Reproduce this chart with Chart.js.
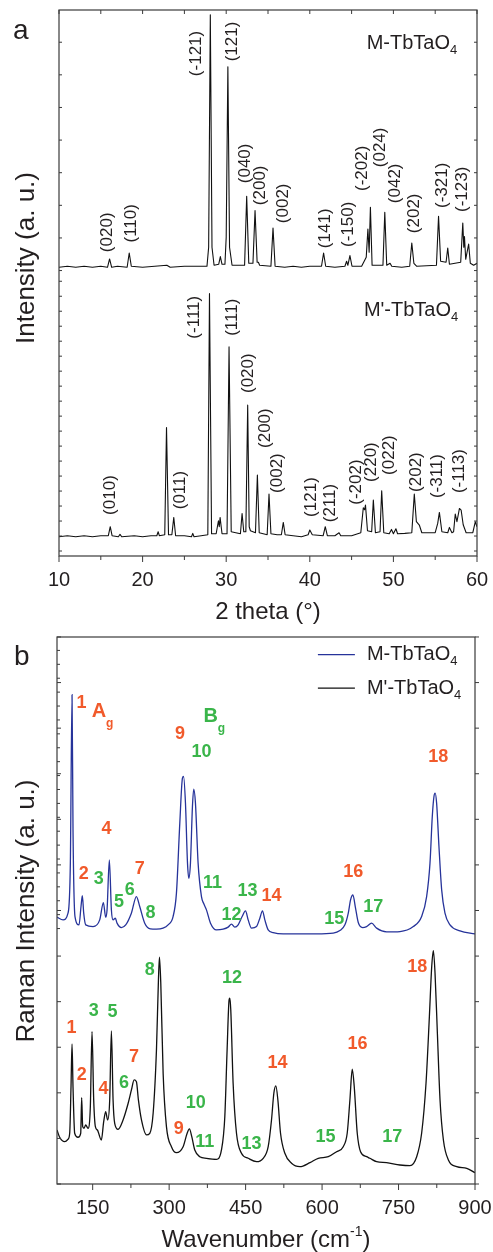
<!doctype html>
<html lang="en">
<head>
<meta charset="UTF-8">
<title>TbTaO4 XRD and Raman</title>
<script src="https://cdn.jsdelivr.net/npm/chart.js"></script>
<style>
  body { margin: 0; background: #fff; }
  canvas { display: block; }
</style>
</head>
<body>
<canvas id="xrd" width="493" height="630"></canvas>
<canvas id="raman" width="493" height="622"></canvas>
<script>
// ---------- (a) XRD patterns, 2 theta (deg) vs intensity (a. u.) ----------
const mTheta = [10,11,12,13,14,15,15.8,16.05,16.3,17,
  18.15,18.4,18.65,20,22.9,23.3,25,27.7,27.9,28.1,
  28.3,28.55,29.1,29.3,29.5,29.85,30.0,30.2,30.4,30.7,
  32.2,32.45,32.7,33.2,33.45,33.7,33.85,34.0,35.35,35.6,
  35.85,37,38,39,40,41.4,41.65,41.9,43,44.2,
  44.4,44.55,44.8,45.05,46.2,46.75,46.95,47.1,47.25,47.45,
  48.75,48.97,49.2,49.6,49.8,51,51.95,52.2,52.45,52.8,
  55.15,55.4,55.65,56.3,56.5,56.7,58.05,58.3,58.42,58.5,
  58.65,59.0,59.2,59.6,60];
const mCounts = [0,1,0,1,0,1,0,8.3,0,1,
  0,14.3,1,0,2,0,1,1,20,252.7,
  20,2,3,10.7,3,3,30,200.7,20,2,
  2,71,4,4,56.7,5,5,2,1,39.3,
  1,0,1,0,1,1,14.3,1,0,1,
  6,2,11.7,1,1,10,38.3,15,60,2,
  2,55,2,4,1,0,1,24.3,4,1,
  2,51,6,5,19.3,3,5,44.3,20,30.7,
  8,23.3,4,2,4];

const mpTheta = [10,11,12,13,14,15,15.9,16.13,16.35,17.1,
  17.3,17.5,19,20,21,21.7,21.86,22.0,22.65,22.86,
  23.1,23.5,23.73,23.95,25,25.85,26,26.15,27,27.8,
  28.0,28.25,28.8,29.07,29.17,29.27,29.5,30.1,30.34,30.6,
  31.7,31.9,32.1,32.35,32.57,32.75,32.9,33.5,33.73,33.95,
  34.9,35.12,35.35,36.1,36.6,36.83,37.05,38,39,39.8,
  40.0,40.3,41.6,41.85,42.1,43,43.5,43.7,45,46.1,
  46.4,46.55,46.66,46.9,47.4,47.6,47.85,48.4,48.6,48.85,
  49.5,49.77,50.0,50.3,50.5,51.36,52.2,52.5,52.75,53.1,
  53.4,55.0,55.3,55.5,55.8,56.5,56.7,57.0,57.2,57.4,
  57.6,57.9,58.1,58.35,58.7,59.5,59.8,60];
const mpCounts = [0,1,0,1,0,1,1,10,1,0,
  2.3,0,1,0,1,1,5,1,2,109.3,
  2,2,19.3,1,1,0,3.3,0,1,2,
  243.3,3,3,16,10,19.3,3,3,190,5,
  3,23.3,5,5,131.7,10,6,4,61.7,4,
  2,42.7,3,2,2,14.3,2,1,0,2,
  6.7,2,1,10,1,1,4,1,1,4,
  29,27,31.7,6,5,36.7,4,5,46,4,
  3,7.3,3,8,3,3.3,4,42.7,15,11.7,
  4,4,13.3,24.3,5,4,9.3,4,5,22.7,
  15,28.3,26.7,12,4,4,15,10];

const xrdTicks = [10, 20, 30, 40, 50, 60];
const mHkl = ['(020)','(110)','(-121)','(121)','(040)','(200)','(002)','(141)','(-150)','(-202)','(024)','(042)','(202)','(-321)','(-123)'];
const mpHkl = ['(010)','(011)','(-111)','(111)','(020)','(200)','(002)','(121)','(211)','(-202)','(220)','(022)','(202)','(-311)','(-113)'];

// stacking offsets and label anchors (data units)
const M_OFFSET = 289, MP_OFFSET = 19.3;
const mHklAt = [[15.8,324],[18.6,333],[26.4,503],[30.74,515],[32.25,393],[34.04,371],[36.83,353],[41.81,328],[44.59,332],[46.31,388],[48.38,409],[50.17,373],[52.56,343],[55.87,371],[58.26,367]];
const mpHklAt = [[16.13,61],[24.49,66],[26.2,239],[30.78,239],[32.65,183],[34.64,128],[36.16,83],[40.22,59],[42.4,53],[45.6,74],[47.39,94],[49.49,101],[52.76,84],[55.22,80],[57.85,85]];

// ---------- (b) Raman spectra, wavenumber (cm-1) vs intensity ----------
const blueWn = [80,91.8,101.6,106.2,109.5,111.4,115.3,123.2,127.1,129.7,
  132.4,136.3,150.7,163.8,171,175.5,178.2,182.7,186.7,190,
  194.5,197.8,206.3,214.8,225.9,235.8,242.3,252.1,263.2,275,
  288,297.9,307.7,314.3,320.9,326.1,328.3,332,336,338.6,
  341.8,345.7,348.3,351.6,356.8,363.4,368,373.2,381.1,392.8,
  405.9,415.7,422.3,428.8,435.4,443.2,449.8,455,461.6,471.4,
  477.9,483.1,487.7,494.3,504.1,523.7,589.2,621.9,635,644.8,
  651.4,655.9,660.5,665.1,671,679.5,687.3,697.1,707,726.6,
  752.8,779,795.3,805.1,811.7,816.2,819.5,821.8,824.7,829.3,
  834.6,841.1,850.9,870.5,900];
const blueInt = [16.7,14,20.7,70.7,239,104,17.3,9,27.3,38.3,
  20.7,9,7.3,14,31.3,16.7,24,74,24,14,
  15.7,10.7,6.3,9,20.7,37.3,27.3,10.7,5,4.7,
  5.7,9,17.3,40.7,110.7,155.7,157.3,130.7,70.7,55.7,
  70.7,127.3,144.7,130.7,70.7,37.3,30,24,10.7,4,
  4.7,6.7,9.7,6.7,9,17.3,23,14,5.7,7.3,
  15.7,23,14,4,1.3,0,0,0.7,3.3,9,
  20.7,34,39,27.3,11.3,6.3,7.3,10.7,5.7,2,
  2.3,7.3,17.3,37.3,70.7,117.3,137.3,140.7,130.7,87.3,
  44,20.7,9,3,0];

const blackWn = [80,85.2,95,101.6,104.9,107.5,109.5,111.4,114.7,121.2,
  126.5,128.4,130.4,133,136.3,140.9,145.4,148.7,152,155.3,
  159.2,167,171.6,175.5,179.4,183.4,186.7,190,193.2,199.8,
  209.6,219.6,226,231.3,235.8,239.7,245.7,255.5,262,268.6,
  275.1,279,281,283.6,288.2,294.7,304.5,314.3,327.4,335.3,
  339.8,344.4,350.3,360.1,373.2,392.8,402.6,409.2,413.7,417.6,
  419,420.9,425.5,432.1,441.9,455,471.4,484.5,494.3,500.8,
  505.4,509.3,513.3,518.5,527,540.1,556.5,576.1,592.5,612.2,
  628.4,641.5,649.3,654.6,659.2,663.1,669,675.5,687.3,693.8,
  707,726.6,752.8,772.5,785.6,795.3,803.9,810.5,815.1,818.3,
  821.6,826.2,831.4,838,847.8,864.1,883.8,900];
const blackInt = [54,46.7,42.3,44.7,50.7,97.3,140,97.3,50.7,46.7,
  50.7,86.3,57.3,55.7,59,55.7,77.3,152.3,84,57.3,
  54,44,62.3,72.3,64,84,153,84,60.7,54.7,
  64,80.7,94,104,102.3,84,64,49,50.7,70.7,
  134,204,226.7,200.7,110.7,57.3,37.3,31.3,37.3,50.7,
  55,47.3,34,27.3,25.7,24.7,34,67.3,134,184,
  185.7,174,100.7,50.7,30.7,25.7,22.3,25.7,37.3,64,
  90.7,98,84,50.7,30.7,20.7,17.3,21.3,25.7,27.3,
  32.3,37.3,50.7,84,114.7,97.3,50.7,32.3,27.3,25.7,
  22.3,21.3,19,18.3,27.3,50.7,100.7,167.3,217.3,233.3,
  210.7,150.7,84,44,24,17.3,15.7,11.3];

const ramanTicks = [150, 300, 450, 600, 750, 900];
const agModes = [1, 2, 4, 7, 9, 14, 16, 18];   // the rest are Bg
const BLUE_OFFSET = 250;
// mode number, wavenumber, height of the label
const blueModeAt = [[1,127.9,481],[9,321.5,450],[10,363.5,432],[18,828,427],[4,177,355],[2,132.4,310],[3,161.9,305],[7,242.3,315],[11,385,301],[13,453.8,293],[14,500.9,288],[16,661.1,312],[6,222.7,294],[5,201.7,282],[17,700.3,277],[8,263.4,271],[12,422.4,269],[15,623.8,265]];
const blackModeAt = [[8,262,214],[12,423.5,206],[18,786.7,217],[3,152,173],[5,188.8,172],[1,108.3,156],[16,669.7,140],[7,231.2,127],[14,512.7,121],[2,128.5,109],[6,211.5,101],[4,171.1,95],[10,352.3,81],[9,318.9,55],[11,370,42],[13,461.6,40],[15,606.9,47],[17,737.6,47]];

const FONT = '"Liberation Sans", Arial, Helvetica, sans-serif';
const INK = '#231f20', AXIS = '#3a3a3a';
const RED = '#f15a2b', GREEN = '#3ab54a', NAVY = '#26339a';

function text(ctx, s, x, y, o) {
  ctx.save();
  ctx.font = (o.bold ? 'bold ' : '') + o.size + 'px ' + FONT;
  ctx.fillStyle = o.color || INK;
  ctx.textAlign = o.align || 'center';
  ctx.textBaseline = o.base || 'middle';
  ctx.translate(x, y);
  if (o.rot) ctx.rotate(o.rot);
  ctx.fillText(s, 0, 0);
  ctx.restore();
}

// main text followed by a lowered/raised small part, e.g. TbTaO + 4
function rich(ctx, parts, x, y, align) {
  ctx.save();
  ctx.textBaseline = 'middle';
  ctx.fillStyle = INK;
  let w = 0;
  parts.forEach(p => { ctx.font = p[1] + 'px ' + FONT; w += ctx.measureText(p[0]).width; });
  let cx = align === 'center' ? x - w / 2 : x;
  parts.forEach(p => {
    ctx.font = p[1] + 'px ' + FONT;
    ctx.fillText(p[0], cx, y + (p[2] || 0));
    cx += ctx.measureText(p[0]).width;
  });
  ctx.restore();
}

function tick(ctx, x1, y1, x2, y2) {
  ctx.beginPath(); ctx.moveTo(x1, y1); ctx.lineTo(x2, y2); ctx.stroke();
}

const xrdDecor = {
  id: 'xrdDecor',
  afterDraw(chart) {
    const ctx = chart.ctx, ca = chart.chartArea, xs = chart.scales.x, ys = chart.scales.y;
    ctx.save();
    ctx.strokeStyle = AXIS; ctx.lineWidth = 1.2;
    ctx.strokeRect(ca.left, ca.top, ca.right - ca.left, ca.bottom - ca.top);
    ctx.lineWidth = 1;
    for (let v = 10; v <= 60; v += 5) {
      const px = xs.getPixelForValue(v);
      tick(ctx, px, ca.bottom, px, ca.bottom + (v % 10 === 0 ? 6 : 4));
      tick(ctx, px, ca.top, px, ca.top + 4);
    }
    const yt = [];
    for (let v = 5; v <= 276; v += 15) yt.push(v);
    for (let k = 0; k < 8; k++) yt.push(285.7 + k * 32.65);
    yt.forEach(v => {
      const py = ys.getPixelForValue(v);
      tick(ctx, ca.left, py, ca.left + 3, py);
      tick(ctx, ca.right, py, ca.right - 3, py);
    });
    xrdTicks.forEach(v => text(ctx, String(v), xs.getPixelForValue(v), ca.bottom + 24, { size: 20 }));
    text(ctx, '2 theta (°)', (ca.left + ca.right) / 2, ca.bottom + 56, { size: 24 });
    text(ctx, 'Intensity (a. u.)', 27, 258, { size: 26, rot: -Math.PI / 2 });
    text(ctx, 'a', 13, 39, { size: 28, align: 'left', base: 'alphabetic' });

    mHkl.forEach((s, i) => text(ctx, s, xs.getPixelForValue(mHklAt[i][0]), ys.getPixelForValue(mHklAt[i][1]), { size: 17, rot: -Math.PI / 2 }));
    mpHkl.forEach((s, i) => text(ctx, s, xs.getPixelForValue(mpHklAt[i][0]), ys.getPixelForValue(mpHklAt[i][1]), { size: 17, rot: -Math.PI / 2 }));

    rich(ctx, [['M-TbTaO', 20], ['4', 13, 7]], xs.getPixelForValue(46.8), ys.getPixelForValue(513));
    rich(ctx, [["M'-TbTaO", 20], ['4', 13, 7]], xs.getPixelForValue(46.47), ys.getPixelForValue(246));
    ctx.restore();
  }
};

const ramanDecor = {
  id: 'ramanDecor',
  afterDraw(chart) {
    const ctx = chart.ctx, ca = chart.chartArea, xs = chart.scales.x, ys = chart.scales.y;
    ctx.save();
    ctx.strokeStyle = AXIS; ctx.lineWidth = 1.2;
    ctx.strokeRect(ca.left, ca.top, ca.right - ca.left, ca.bottom - ca.top);
    ctx.lineWidth = 1;
    for (let v = 150; v <= 900; v += 75) {
      const px = xs.getPixelForValue(v);
      tick(ctx, px, ca.bottom, px, ca.bottom + (v % 150 === 0 ? 6 : 4));
    }
    for (let v = 0; v <= 547; v += 45.56) {
      const py = ys.getPixelForValue(v);
      tick(ctx, ca.left, py, ca.left + 4, py);
      tick(ctx, ca.right, py, ca.right + 4, py);
    }
    for (let v = 533.3; v > 245; v -= 13.9) {
      const py = ys.getPixelForValue(v);
      tick(ctx, ca.left, py, ca.left + 3, py);
    }
    ramanTicks.forEach(v => text(ctx, String(v), xs.getPixelForValue(v), ca.bottom + 24, { size: 20 }));
    rich(ctx, [['Wavenumber (cm', 24], ['-1', 14, -8], [')', 24]], (ca.left + ca.right) / 2, ca.bottom + 56, 'center');
    text(ctx, 'Raman Intensity (a. u.)', 27, 281, { size: 26, rot: -Math.PI / 2 });
    text(ctx, 'b', 14, 35, { size: 28, align: 'left', base: 'alphabetic' });

    // legend
    const lx1 = xs.getPixelForValue(591.8), lx2 = xs.getPixelForValue(664.4), tx = xs.getPixelForValue(688);
    [[529, NAVY, 'M-TbTaO'], [495.7, '#111', "M'-TbTaO"]].forEach(r => {
      const py = ys.getPixelForValue(r[0]);
      ctx.strokeStyle = r[1]; ctx.lineWidth = 1.3;
      tick(ctx, lx1, py, lx2, py);
      rich(ctx, [[r[2], 20], ['4', 13, 7]], tx, py);
    });

    // mode numbers
    const mode = (m) => {
      const c = agModes.includes(m[0]) ? RED : GREEN;
      text(ctx, String(m[0]), xs.getPixelForValue(m[1]), ys.getPixelForValue(m[2]), { size: 18, bold: true, color: c });
    };
    blueModeAt.forEach(mode);
    blackModeAt.forEach(mode);

    // symmetry species
    [['A', 162.5, 472, RED], ['B', 381.7, 467, GREEN]].forEach(s => {
      const px = xs.getPixelForValue(s[1]), py = ys.getPixelForValue(s[2]);
      text(ctx, s[0], px, py, { size: 20, bold: true, color: s[3] });
      text(ctx, 'g', px + 7, py + 12, { size: 12, bold: true, color: s[3], align: 'left' });
    });
    ctx.restore();
  }
};

const common = {
  responsive: false,
  animation: false,
  events: [],
  plugins: { legend: { display: false }, tooltip: { enabled: false } }
};

new Chart(document.getElementById('xrd'), {
  type: 'line',
  data: {
    datasets: [
      { label: 'M-TbTaO4', data: mTheta.map((t, i) => ({ x: t, y: mCounts[i] + M_OFFSET })),
        borderColor: '#111', borderWidth: 1.1, borderJoinStyle: 'round', pointRadius: 0, tension: 0 },
      { label: "M'-TbTaO4", data: mpTheta.map((t, i) => ({ x: t, y: mpCounts[i] + MP_OFFSET })),
        borderColor: '#111', borderWidth: 1.1, borderJoinStyle: 'round', pointRadius: 0, tension: 0 }
    ]
  },
  options: Object.assign({}, common, {
    layout: { padding: { left: 59, right: 16, top: 10, bottom: 74 } },
    scales: {
      x: { type: 'linear', min: 10, max: 60, display: false },
      y: { min: 0, max: 546.5, display: false }
    }
  }),
  plugins: [xrdDecor]
});

new Chart(document.getElementById('raman'), {
  type: 'line',
  data: {
    datasets: [
      { label: 'M-TbTaO4', data: blueWn.map((w, i) => ({ x: w, y: blueInt[i] + BLUE_OFFSET })),
        borderColor: NAVY, borderWidth: 1.3, pointRadius: 0, cubicInterpolationMode: 'monotone' },
      { label: "M'-TbTaO4", data: blackWn.map((w, i) => ({ x: w, y: blackInt[i] })),
        borderColor: '#111', borderWidth: 1.3, pointRadius: 0, cubicInterpolationMode: 'monotone' }
    ]
  },
  options: Object.assign({}, common, {
    layout: { padding: { left: 57, right: 18, top: 7, bottom: 68 } },
    scales: {
      x: { type: 'linear', min: 80, max: 900, display: false },
      y: { min: 0, max: 546.7, display: false }
    }
  }),
  plugins: [ramanDecor]
});
</script>
</body>
</html>
